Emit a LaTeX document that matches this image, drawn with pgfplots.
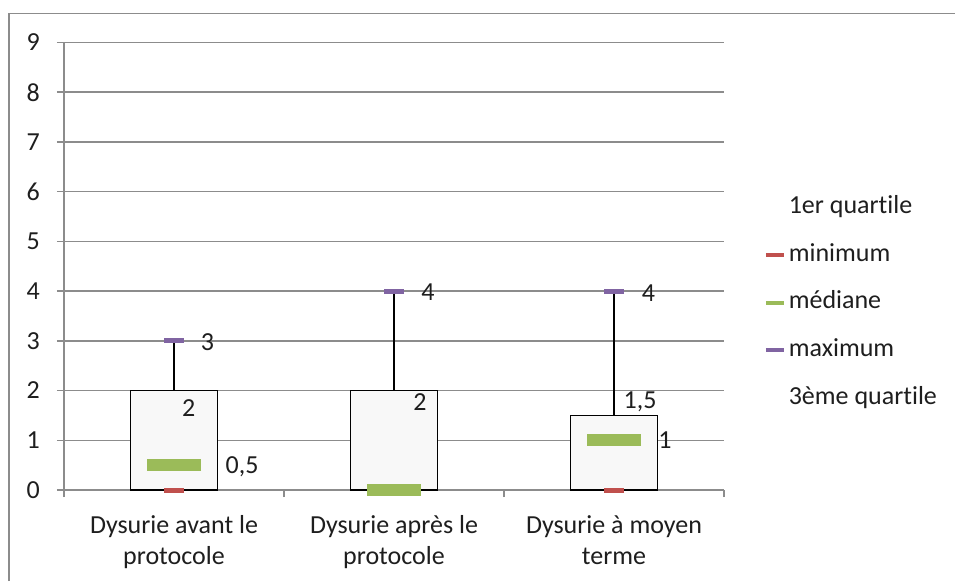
\documentclass[border=0pt]{standalone}
\usepackage{fontspec}
\setmainfont{Carlito}[Ligatures={NoCommon}]
\usepackage{pgfplots}
\pgfplotsset{compat=1.18}
\usepgfplotslibrary{statistics}
\definecolor{gridc}{RGB}{140,140,140}
\definecolor{minc}{RGB}{192,80,77}
\definecolor{medc}{RGB}{155,187,89}
\definecolor{maxc}{RGB}{128,100,162}
\definecolor{boxc}{RGB}{248,248,248}
\definecolor{txt}{RGB}{30,30,30}
\begin{document}
\fontsize{26pt}{31pt}\selectfont
\begin{tikzpicture}
\useasboundingbox (0,0) rectangle (955pt,581pt);
\draw[gridc, line width=1.5pt] (9pt,0pt) -- (9pt,567.5pt) -- (955pt,567.5pt);
\begin{axis}[
  at={(64pt,91pt)}, anchor=south west,
  scale only axis, width=660pt, height=447.5pt,
  xmin=-0.5, xmax=2.5, ymin=0, ymax=9,
  clip=false,
  axis x line*=bottom, axis y line*=left,
  axis line style={gridc, line width=1.5pt},
  ytick={0,...,9},
  ymajorgrids, grid style={gridc, line width=1.5pt},
  tick align=outside, major tick length=7pt,
  tick style={gridc, line width=1.5pt},
  xtick={-0.5,0.5,1.5,2.5}, xticklabels={},
  extra x ticks={0,1,2},
  extra x tick labels={{Dysurie avant le\\protocole},{Dysurie après le\\protocole},{Dysurie à moyen\\terme}},
  extra x tick style={tick style={draw=none}, grid=none},
  xticklabel style={align=center, inner sep=0pt, text=txt, yshift=-18pt},
  yticklabel style={inner sep=0pt, xshift=-17pt, text=txt},
  /pgf/number format/assume math mode=true,
  boxplot/draw direction=y,
  boxplot/every box/.style={draw=black, fill=boxc, line width=1.5pt},
  boxplot/every whisker/.style={black, line width=1.5pt},
  boxplot/every median/.style={draw=none},
  legend style={at={(1.06,0.659)}, anchor=north west, draw=none, fill=none,
    inner sep=0pt, row sep=23.7pt, column sep=3pt,
    nodes={inner sep=0pt, text height=18pt, text depth=6pt, text=txt}},
  legend cell align=left,
]
% boxes (Q1 to Q3, whisker to max)
\addplot[forget plot, boxplot prepared={draw position=0, lower whisker=0, lower quartile=0, median=0.5, upper quartile=2, upper whisker=3, box extend=0.395, whisker extend=0}] coordinates {};
\addplot[forget plot, boxplot prepared={draw position=1, lower whisker=0, lower quartile=0, median=0, upper quartile=2, upper whisker=4, box extend=0.395, whisker extend=0}] coordinates {};
\addplot[forget plot, boxplot prepared={draw position=2, lower whisker=0, lower quartile=0, median=1, upper quartile=1.5, upper whisker=4, box extend=0.395, whisker extend=0}] coordinates {};
% minimum
\addplot[forget plot, only marks, mark=-, mark size=10pt, color=minc, mark options={line width=5pt}] coordinates {(0,0) (1,0) (2,0)};
% mediane
\addplot[forget plot, only marks, mark=-, mark size=27pt, color=medc, mark options={line width=12pt}] coordinates {(0,0.5) (1,0) (2,1)};
% maximum
\addplot[forget plot, only marks, mark=-, mark size=10pt, color=maxc, mark options={line width=5pt}] coordinates {(0,3) (1,4) (2,4)};
% data labels
\addplot[forget plot, only marks, mark=none, nodes near coords, point meta=explicit symbolic,
  visualization depends on={\thisrow{dx}\as\dx},
  visualization depends on={\thisrow{dy}\as\dy},
  nodes near coords style={anchor=base, xshift=\dx pt, yshift=\dy pt, inner sep=0pt, text=txt}]
  table[x=x, y=y, meta=lab]{
x y dx dy lab
0 3 33.5 -10 3
0 2 14.8 -25.5 2
0 0.5 68 -8 0,5
1 4 34 -9 4
1 2 26 -19.5 2
2 4 34.5 -10 4
2 1.5 26 7.4 1,5
2 1 51 -8 1
};
\addlegendimage{legend image code/.code={\path[draw=none] (0pt,0pt) -- (18pt,0pt);}}
\addlegendentry{1er quartile}
\addlegendimage{legend image code/.code={\draw[minc, line width=4pt] (0pt,0pt) -- (18pt,0pt);}}
\addlegendentry{minimum}
\addlegendimage{legend image code/.code={\draw[medc, line width=4pt] (0pt,0pt) -- (18pt,0pt);}}
\addlegendentry{médiane}
\addlegendimage{legend image code/.code={\draw[maxc, line width=4pt] (0pt,0pt) -- (18pt,0pt);}}
\addlegendentry{maximum}
\addlegendimage{legend image code/.code={\path[draw=none] (0pt,0pt) -- (18pt,0pt);}}
\addlegendentry{3ème quartile}
\end{axis}
\end{tikzpicture}
\end{document}
